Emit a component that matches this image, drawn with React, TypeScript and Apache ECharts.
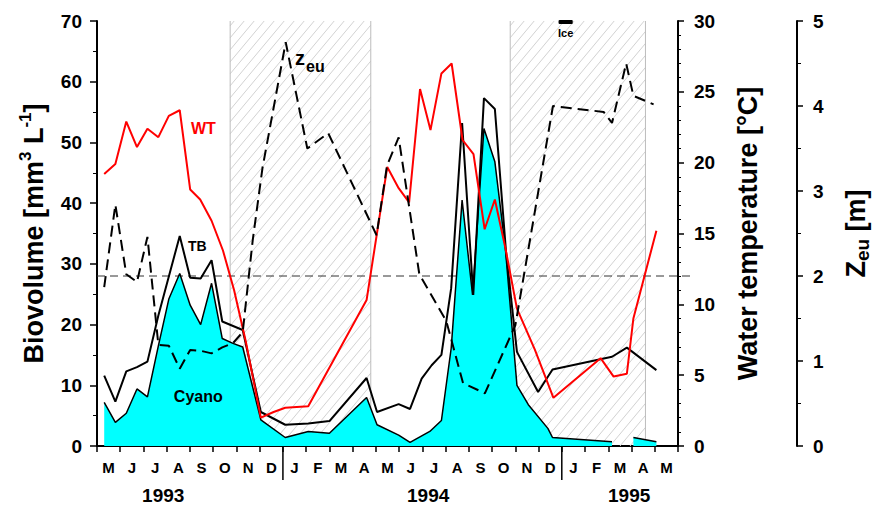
import React, { useEffect, useRef } from 'react';
import * as echarts from 'echarts';

// time axis: months since 1 May 1993 (0 = start of May 1993, 25 = end of May 1995)
const monthLabels = ['M', 'J', 'J', 'A', 'S', 'O', 'N', 'D', 'J', 'F', 'M', 'A', 'M', 'J', 'J', 'A', 'S', 'O', 'N', 'D', 'J', 'F', 'M', 'A', 'M'];
const years = ['1993', '1994', '1995'];
const yearCenters = [2.85, 14.25, 22.9];
const yearBreaks = [8, 20];
const winterPeriods = [[5.73, 11.78], [17.78, 23.6]];
const icePeriod = [[19.86, 20.47]];
const zeuReference = 2;

// Water temperature [°C]
const wtData = [[0.31, 19.2], [0.79, 19.9], [1.26, 22.9], [1.72, 21.1], [2.17, 22.4], [2.64, 21.8], [3.09, 23.3], [3.56, 23.7], [4.01, 18.1], [4.44, 17.4], [4.93, 15.9], [5.42, 13.8], [5.9, 11.0], [6.4, 7.4], [7.05, 2.0], [7.6, 2.4], [8.1, 2.7], [9.09, 2.8], [11.6, 10.3], [12.49, 19.7], [12.98, 18.2], [13.43, 17.2], [13.9, 25.2], [14.35, 22.3], [14.82, 26.3], [15.26, 27.0], [15.73, 21.6], [16.2, 20.6], [16.68, 15.3], [17.12, 17.4], [17.57, 14.0], [18.07, 9.7], [18.84, 6.8], [19.64, 3.4], [21.67, 6.2], [22.23, 4.9], [22.8, 5.1], [23.08, 9.0], [24.07, 15.2]];

// Total biovolume [mm3 L-1]
const tbData = [[0.31, 11.6], [0.79, 7.3], [1.26, 12.3], [1.72, 13.0], [2.17, 13.9], [2.64, 21.5], [3.56, 34.6], [4.01, 27.7], [4.46, 27.6], [4.93, 30.6], [5.39, 20.5], [6.27, 19.1], [7.05, 5.6], [8.1, 3.5], [9.09, 3.7], [10.0, 4.1], [11.6, 11.2], [12.05, 5.6], [12.98, 6.9], [13.47, 6.1], [13.97, 11.1], [14.4, 13.3], [14.82, 15.0], [15.24, 26.0], [15.71, 53.2], [16.19, 24.9], [16.65, 57.3], [17.12, 55.5], [17.6, 32.0], [18.07, 15.5], [18.98, 8.9], [19.6, 12.6], [22.16, 14.7], [22.8, 16.2], [24.07, 12.5]];

// Cyanobacteria biovolume [mm3 L-1]
const cyanoData: (number | string)[][] = [[0.31, 7.2], [0.79, 3.9], [1.26, 5.4], [1.72, 9.4], [2.17, 8.1], [2.64, 16.5], [3.09, 24.2], [3.56, 28.4], [4.01, 23.2], [4.46, 20.0], [4.93, 26.8], [5.39, 17.7], [5.85, 16.9], [6.27, 16.3], [7.05, 4.3], [8.1, 1.4], [9.09, 2.4], [10.0, 2.1], [11.6, 8.0], [12.05, 3.5], [12.98, 1.8], [13.47, 0.6], [14.32, 2.4], [14.82, 4.2], [15.24, 16.1], [15.71, 40.5], [16.16, 24.9], [16.65, 52.3], [17.12, 46.8], [17.57, 32.6], [18.07, 10.0], [18.56, 6.8], [19.4, 2.9], [19.6, 1.4], [22.16, 0.7], [22.6, '-'], [23.08, 1.4], [24.07, 0.7]];

// Euphotic depth [m]
const zeuData = [[0.31, 1.87], [0.79, 2.84], [1.26, 2.02], [1.72, 1.93], [2.17, 2.46], [2.64, 1.19], [3.09, 1.18], [3.56, 0.91], [4.01, 1.13], [4.46, 1.12], [4.93, 1.09], [5.39, 1.16], [5.85, 1.21], [6.27, 1.34], [6.7, 2.42], [7.12, 3.27], [8.12, 4.75], [9.05, 3.5], [9.95, 3.68], [12.03, 2.48], [12.48, 3.3], [12.98, 3.63], [13.87, 2.02], [15.03, 1.47], [15.75, 0.74], [16.69, 0.62], [18.0, 1.42], [19.62, 4.0], [21.8, 3.93], [22.16, 3.8], [22.77, 4.5], [23.08, 4.12], [23.95, 4.02]];

const FONT = '"Liberation Sans", Arial, sans-serif';

const textAnnotations = [
  { text: 'WT', x: 4.58, y: 22.4, axis: 1, color: '#ff0000', size: 16 },
  { text: 'TB', x: 4.32, y: 32.9, axis: 0, color: '#000000', size: 14 },
  { text: 'Cyano', x: 4.36, y: 8.2, axis: 0, color: '#000000', size: 16 },
];
const zeuLabelPos = [8.52, 4.56];

function txt(x: number, y: number, text: string, font: string, fill: string, align = 'center', va = 'middle') {
  return {
    type: 'text',
    x, y,
    style: { text, font, fill, align, verticalAlign: va, textAlign: align, textVerticalAlign: va },
  };
}

function buildOption() {
  const series: any[] = [];

  // hatched winter periods
  series.push({
    type: 'custom', name: 'winter', xAxisIndex: 0, yAxisIndex: 0, z: 1, silent: true,
    data: winterPeriods,
    renderItem: (params: any, api: any) => {
      const a = api.value(0), b = api.value(1);
      const tl = api.coord([a, 70]);
      const br = api.coord([b, 0]);
      const x0 = tl[0], y0 = tl[1], x1 = br[0], y1 = br[1];
      const k = 1.2, step = 10;
      const h = y1 - y0;
      const children: any[] = [];
      const cStart = Math.floor((x0 - h / k) / step) * step;
      for (let c = cStart; c < x1; c += step) {
        let xa = c, ya = y1;
        if (xa < x0) { ya = y1 - k * (x0 - c); xa = x0; }
        let xb = c + h / k, yb = y0;
        if (xb > x1) { yb = y1 - k * (x1 - c); xb = x1; }
        if (xb <= xa || ya < y0) continue;
        children.push({ type: 'line', shape: { x1: xa, y1: ya, x2: xb, y2: yb }, style: { stroke: '#d2d2d2', lineWidth: 1 } });
      }
      children.push({ type: 'line', shape: { x1: x0, y1: y0, x2: x0, y2: y1 }, style: { stroke: '#bdbdbd', lineWidth: 1 } });
      children.push({ type: 'line', shape: { x1: x1, y1: y0, x2: x1, y2: y1 }, style: { stroke: '#bdbdbd', lineWidth: 1 } });
      return { type: 'group', children };
    },
  });

  series.push({
    type: 'line', name: 'Cyano', xAxisIndex: 0, yAxisIndex: 0, z: 3,
    data: cyanoData, symbol: 'none', connectNulls: false,
    lineStyle: { color: '#000', width: 1.5 },
    areaStyle: { color: '#00ffff', opacity: 1 },
  });
  series.push({
    type: 'line', name: 'TB', xAxisIndex: 0, yAxisIndex: 0, z: 4,
    data: tbData, symbol: 'none', lineStyle: { color: '#000', width: 2 },
  });
  series.push({
    type: 'line', name: 'WT', xAxisIndex: 0, yAxisIndex: 1, z: 5,
    data: wtData, symbol: 'none', lineStyle: { color: '#ff0000', width: 2 },
  });
  series.push({
    type: 'line', name: 'Zeu', xAxisIndex: 0, yAxisIndex: 2, z: 6,
    data: zeuData, symbol: 'none', lineStyle: { color: '#000', width: 2, type: [11, 6] },
  });

  // reference dashed line at Zeu = 2 m
  series.push({
    type: 'custom', name: 'ref', xAxisIndex: 0, yAxisIndex: 2, z: 2, silent: true,
    data: [[0, zeuReference]],
    renderItem: (params: any, api: any) => {
      const p0 = api.coord([0, api.value(1)]);
      const p1 = api.coord([25, api.value(1)]);
      return { type: 'line', shape: { x1: p0[0], y1: p0[1], x2: p1[0] + 16, y2: p1[1] }, style: { stroke: '#333', lineWidth: 1, lineDash: [8, 5] } };
    },
  });

  // year separators
  series.push({
    type: 'custom', name: 'yearBreaks', xAxisIndex: 0, yAxisIndex: 0, z: 7, silent: true,
    data: yearBreaks.map((m) => [m, 0]),
    renderItem: (params: any, api: any) => {
      const p = api.coord([api.value(0), 0]);
      return { type: 'line', shape: { x1: p[0], y1: p[1], x2: p[0], y2: p[1] + 34 }, style: { stroke: '#000', lineWidth: 1.5 } };
    },
  });
  // year labels
  series.push({
    type: 'custom', name: 'years', xAxisIndex: 0, yAxisIndex: 0, z: 7, silent: true,
    data: yearCenters.map((m, i) => [m, 0, i]),
    renderItem: (params: any, api: any) => {
      const p = api.coord([api.value(0), 0]);
      return txt(p[0], p[1] + 49, years[params.dataIndex], `bold 19px ${FONT}`, '#000');
    },
  });
  // ice cover
  series.push({
    type: 'custom', name: 'ice', xAxisIndex: 0, yAxisIndex: 0, z: 7, silent: true,
    data: icePeriod,
    renderItem: (params: any, api: any) => {
      const a = api.coord([api.value(0), 70]);
      const b = api.coord([api.value(1), 70]);
      return {
        type: 'group',
        children: [
          { type: 'rect', shape: { x: a[0], y: a[1] - 1, width: b[0] - a[0], height: 4, r: 1 }, style: { fill: '#000' } },
          txt((a[0] + b[0]) / 2, a[1] + 12, 'Ice', `bold 11px ${FONT}`, '#000'),
        ],
      };
    },
  });
  // text annotations
  textAnnotations.forEach((t) => {
    series.push({
      type: 'custom', name: 'label-' + t.text, xAxisIndex: 0, yAxisIndex: t.axis, z: 8, silent: true,
      data: [[t.x, t.y]],
      renderItem: (params: any, api: any) => {
        const p = api.coord([api.value(0), api.value(1)]);
        return txt(p[0], p[1], t.text, `bold ${t.size}px ${FONT}`, t.color);
      },
    });
  });
  series.push({
    type: 'custom', name: 'label-zeu', xAxisIndex: 0, yAxisIndex: 2, z: 8, silent: true,
    data: [zeuLabelPos],
    renderItem: (params: any, api: any) => {
      const p = api.coord([api.value(0), api.value(1)]);
      return {
        type: 'group',
        children: [
          txt(p[0], p[1], 'z', `bold 20px ${FONT}`, '#000', 'left', 'middle'),
          txt(p[0] + 11, p[1] + 8, 'eu', `bold 16px ${FONT}`, '#000', 'left', 'middle'),
        ],
      };
    },
  });

  const axisLabelBase = { fontFamily: FONT, fontWeight: 'bold', fontSize: 19, color: '#000' };
  const nameBase = { fontFamily: FONT, fontWeight: 'bold', fontSize: 27, color: '#000' };

  return {
    animation: false,
    backgroundColor: '#fff',
    grid: { left: 97, right: 193, top: 21, bottom: 59, containLabel: false },
    xAxis: [
      {
        type: 'value', position: 'top', min: 0, max: 25, interval: 1,
        axisLine: { show: true, lineStyle: { color: '#222', width: 1.5 } },
        axisTick: { show: false }, axisLabel: { show: false }, splitLine: { show: false },
      },
      {
        type: 'category', position: 'bottom', data: monthLabels, boundaryGap: true,
        axisLine: { show: true, lineStyle: { color: '#000', width: 2 } },
        axisTick: { show: true, interval: 0, length: 6, lineStyle: { color: '#000', width: 1.5 } },
        axisLabel: { interval: 0, margin: 14, fontFamily: FONT, fontWeight: 'bold', fontSize: 15, color: '#000' },
        splitLine: { show: false },
      },
    ],
    yAxis: [
      {
        type: 'value', position: 'left', min: 0, max: 70, interval: 10,
        axisLine: { show: true, lineStyle: { color: '#000', width: 2 } },
        axisTick: { show: true, length: 7, lineStyle: { color: '#000', width: 1.5 } },
        minorTick: { show: true, splitNumber: 2, length: 4, lineStyle: { color: '#000', width: 1 } },
        axisLabel: { ...axisLabelBase, margin: 15 },
        splitLine: { show: false },
        name: '{m|Biovolume [mm}{s|3}{m| L}{s|-1}{m|]}',
        nameLocation: 'middle', nameRotate: 90, nameGap: 50,
        nameTextStyle: {
          ...nameBase,
          rich: {
            m: { ...nameBase, lineHeight: 30, verticalAlign: 'bottom' },
            s: { ...nameBase, fontSize: 17, lineHeight: 10, verticalAlign: 'top' },
          },
        },
      },
      {
        type: 'value', position: 'right', min: 0, max: 30, interval: 5,
        axisLine: { show: true, lineStyle: { color: '#000', width: 2 } },
        axisTick: { show: true, length: 6, lineStyle: { color: '#000', width: 1.5 } },
        minorTick: { show: true, splitNumber: 5, length: 3, lineStyle: { color: '#000', width: 1 } },
        axisLabel: { ...axisLabelBase, margin: 16 },
        splitLine: { show: false },
        name: 'Water temperature [°C]',
        nameLocation: 'middle', nameRotate: 90, nameGap: 56,
        nameTextStyle: { ...nameBase },
      },
      {
        type: 'value', position: 'right', offset: 119, min: 0, max: 5, interval: 1,
        axisLine: { show: true, lineStyle: { color: '#000', width: 2 } },
        axisTick: { show: true, length: 6, lineStyle: { color: '#000', width: 1.5 } },
        minorTick: { show: true, splitNumber: 2, length: 4, lineStyle: { color: '#000', width: 1 } },
        axisLabel: { ...axisLabelBase, margin: 16 },
        splitLine: { show: false },
        name: '{m|Z}{s|eu}{m| [m]}',
        nameLocation: 'middle', nameRotate: 90, nameGap: 45,
        nameTextStyle: {
          ...nameBase,
          rich: {
            m: { ...nameBase, lineHeight: 30, verticalAlign: 'top' },
            s: { ...nameBase, fontSize: 19, lineHeight: 14, verticalAlign: 'bottom' },
          },
        },
      },
    ],
    series,
  };
}

export default function App() {
  const ref = useRef<HTMLDivElement>(null);
  useEffect(() => {
    document.body.style.margin = '0';
    const chart = echarts.init(ref.current!, null, { renderer: 'svg' });
    chart.setOption(buildOption() as any);
    return () => chart.dispose();
  }, []);
  return <div ref={ref} style={{ width: 880, height: 505 }} />;
}
